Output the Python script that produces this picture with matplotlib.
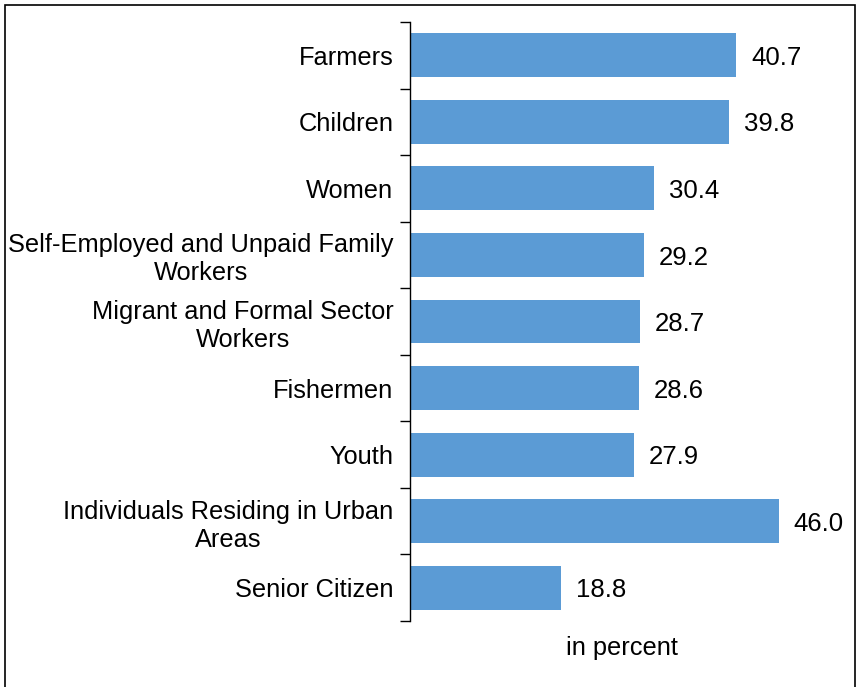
import matplotlib.pyplot as plt
from matplotlib.patches import Rectangle

plt.rcParams['font.family'] = ['Liberation Sans', 'DejaVu Sans']

groups = ["Farmers", "Children", "Women",
          "Self-Employed and Unpaid Family\nWorkers",
          "Migrant and Formal Sector\nWorkers",
          "Fishermen", "Youth",
          "Individuals Residing in Urban\nAreas",
          "Senior Citizen"]
values = [40.7, 39.8, 30.4, 29.2, 28.7, 28.6, 27.9, 46.0, 18.8]

fig = plt.figure(figsize=(8.58, 6.87), dpi=100)
ax = fig.add_axes([0.478, 0.096, 0.494, 0.872])

pos = list(range(len(groups)))
ax.barh(pos, values, height=0.66, color='#5B9BD5')
for y, v in zip(pos, values):
    ax.text(v + 1.85, y + 0.145, f"{v:.1f}", va='baseline', ha='left',
            fontsize=18.5)

ax.set_ylim(len(groups) - 0.5, -0.5)
ax.set_xlim(0, 52.9)
ax.set_yticks(pos)
ax.set_yticklabels(groups, fontsize=18.3, ma='center', linespacing=1.2)
ax.set_yticks([p - 0.5 for p in pos] + [len(groups) - 0.5], minor=True)
ax.tick_params(axis='y', which='major', length=0, pad=12)
ax.tick_params(axis='y', which='minor', length=7, width=1, direction='out')
ax.set_xticks([])
for side in ['top', 'right', 'bottom']:
    ax.spines[side].set_visible(False)
ax.spines['left'].set_linewidth(1)

ax.text(0.5, -0.045, "in percent", transform=ax.transAxes,
        ha='center', va='center', fontsize=18.3)

# outer frame around the chart
fig.patches.append(Rectangle((5 / 858, -0.02), 850 / 858, 1.02 - 5 / 687,
                             transform=fig.transFigure, fill=False,
                             edgecolor='black', linewidth=1.2))

fig.savefig("out.png", dpi=100)
